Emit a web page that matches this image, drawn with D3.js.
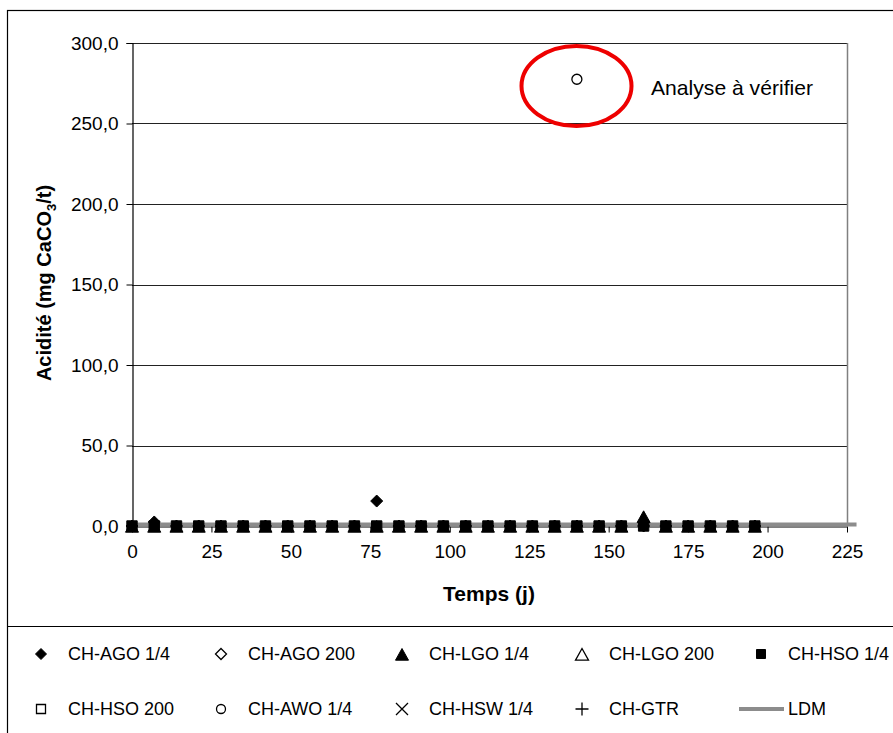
<!DOCTYPE html>
<html>
<head>
<meta charset="utf-8">
<script src="https://cdn.jsdelivr.net/npm/d3@7"></script>
<style>
  body { margin: 0; background: #fff; }
  svg { font-family: "Liberation Sans", Arial, sans-serif; }
</style>
</head>
<body>
<div id="chart"></div>
<script>
// sampling days (j)
var days = [0, 7, 14, 21, 28, 35, 42, 49, 56, 63, 70, 77, 84, 91, 98, 105,
            112, 119, 126, 133, 140, 147, 154, 161, 168, 175, 182, 189, 196];

// acidity values (mg CaCO3/t), null = no analysis
var agoQuarter = [0, 2.5, 0, 0, 0, 0, 0, 0, 0, 0, 0, 15.5, 0, 0, 0, 0,
                  0, 0, 0, 0, 0, 0, 0, 0, 0, 0, 0, 0, 0];
var lgoQuarter = [0, 0, 0, 0, 0, 0, 0, 0, 0, 0, 0, 0, 0, 0, 0, 0,
                  0, 0, 0, 0, 0, 0, 0, 6.0, 0, 0, 0, 0, 0];
var hsoQuarter = [0, 0, 0, 0, 0, 0, 0, 0, 0, 0, 0, 0, 0, 0, 0, 0,
                  0, 0, 0, 0, 0, 0, 0, 0, 0, 0, 0, 0, 0];
var awoQuarter = [null, null, null, null, null, null, null, null, null, null, null, null, null, null, null, null,
                  null, null, null, null, 277.5, null, null, null, null, null, null, null, null];
var ago200 = [], lgo200 = [], hso200 = [], hswQuarter = [], gtr = [];

// limite de détection
var ldmDays = [0, 228];
var ldmValues = [1.0, 1.0];

var yTicks = [0, 50, 100, 150, 200, 250, 300];
var xTicks = [0, 25, 50, 75, 100, 125, 150, 175, 200, 225];

var series = [
    {name: "CH-AGO 1/4", values: agoQuarter, symbol: "diamond", filled: true},
    {name: "CH-AGO 200", values: ago200, symbol: "diamond", filled: false},
    {name: "CH-LGO 1/4", values: lgoQuarter, symbol: "triangle", filled: true},
    {name: "CH-LGO 200", values: lgo200, symbol: "triangle", filled: false},
    {name: "CH-HSO 1/4", values: hsoQuarter, symbol: "square", filled: true},
    {name: "CH-HSO 200", values: hso200, symbol: "square", filled: false},
    {name: "CH-AWO 1/4", values: awoQuarter, symbol: "circle", filled: false},
    {name: "CH-HSW 1/4", values: hswQuarter, symbol: "cross", filled: false},
    {name: "CH-GTR", values: gtr, symbol: "plus", filled: false}
];

var W = 893, H = 733;
var svg = d3.select("#chart").append("svg")
    .attr("width", W)
    .attr("height", H);

// outer frame + legend separator
svg.append("rect")
    .attr("x", 7.5).attr("y", 10.5)
    .attr("width", 1000).attr("height", 1000)
    .attr("fill", "none").attr("stroke", "#000").attr("stroke-width", 1.2);
svg.append("line")
    .attr("x1", 7).attr("x2", W)
    .attr("y1", 626.5).attr("y2", 626.5)
    .attr("stroke", "#000").attr("stroke-width", 1.2);

var x = d3.scaleLinear().domain([0, 225]).range([132, 847]);
var y = d3.scaleLinear().domain([0, 300]).range([526, 43]);

// gridlines
svg.append("g")
    .selectAll("line")
    .data(yTicks.filter(function(d) { return d > 0; }))
    .enter().append("line")
    .attr("x1", x(0)).attr("x2", x(225))
    .attr("y1", function(d) { return Math.round(y(d)) + 0.5; })
    .attr("y2", function(d) { return Math.round(y(d)) + 0.5; })
    .attr("stroke", "#222").attr("stroke-width", 1);

// right border of plot area
svg.append("line")
    .attr("x1", x(225) + 0.5).attr("x2", x(225) + 0.5)
    .attr("y1", y(300)).attr("y2", y(0))
    .attr("stroke", "#808080").attr("stroke-width", 1.5);

// y axis
var yAxis = d3.axisLeft(y)
    .tickValues(yTicks)
    .tickSize(6)
    .tickPadding(8)
    .tickFormat(function(d) { return d3.format(".1f")(d).replace(".", ","); });
var gy = svg.append("g")
    .attr("transform", "translate(" + (x(0) + 0.5) + ",0)")
    .call(yAxis);
gy.select(".domain").attr("stroke", "#000").attr("stroke-width", 1.2);
gy.selectAll(".tick line").attr("stroke", "#000");
gy.selectAll("text").attr("font-size", 19).attr("fill", "#000")
    .attr("font-family", "Liberation Sans, Arial, sans-serif");

// x axis
var xAxis = d3.axisBottom(x)
    .tickValues(xTicks)
    .tickSize(6)
    .tickPadding(12)
    .tickSizeOuter(0);
var gx = svg.append("g")
    .attr("transform", "translate(0," + (y(0) + 0.5) + ")")
    .call(xAxis);
gx.select(".domain").attr("stroke", "#000").attr("stroke-width", 1.2);
gx.selectAll(".tick line").attr("stroke", "#000");
gx.selectAll("text").attr("font-size", 19).attr("fill", "#000")
    .attr("font-family", "Liberation Sans, Arial, sans-serif");

// LDM line behind markers
var ldmLine = d3.line()
    .x(function(d) { return x(d[0]); })
    .y(function(d) { return y(d[1]); });
svg.append("path")
    .datum(d3.zip(ldmDays, ldmValues))
    .attr("d", ldmLine)
    .attr("fill", "none")
    .attr("stroke", "#8c8c8c")
    .attr("stroke-width", 4);

// marker shapes (hand built so they look like the spreadsheet ones)
function markerPath(sym, r) {
    var p = d3.path();
    if (sym === "diamond") {
        p.moveTo(0, -r); p.lineTo(r, 0); p.lineTo(0, r); p.lineTo(-r, 0); p.closePath();
    } else if (sym === "triangle") {
        p.moveTo(0, -r); p.lineTo(r, r * 0.8); p.lineTo(-r, r * 0.8); p.closePath();
    } else if (sym === "square") {
        p.rect(-r, -r, 2 * r, 2 * r);
    } else if (sym === "circle") {
        p.moveTo(r, 0); p.arc(0, 0, r, 0, 2 * Math.PI);
    } else if (sym === "cross") {
        p.moveTo(-r, -r); p.lineTo(r, r); p.moveTo(-r, r); p.lineTo(r, -r);
    } else {
        p.moveTo(-r, 0); p.lineTo(r, 0); p.moveTo(0, -r); p.lineTo(0, r);
    }
    return p.toString();
}
var plotSize = {diamond: 6, triangle: 6.5, square: 5.2, circle: 5, cross: 6, plus: 6};
var legendSize = {diamond: 5.5, triangle: 6.5, square: 4.5, circle: 4.5, cross: 6, plus: 6.5};

function styleMarker(sel, s) {
    if (s.filled) {
        sel.attr("fill", "#000").attr("stroke", "#000").attr("stroke-width", 1);
    } else {
        sel.attr("fill", s.symbol === "circle" ? "#fff" : "none")
           .attr("stroke", "#000").attr("stroke-width", 1.3);
    }
}

series.forEach(function(s) {
    var pts = s.values.map(function(v, i) { return [days[i], v]; })
        .filter(function(p) { return p[1] !== null && p[1] !== undefined; });
    var g = svg.append("g");
    var m = g.selectAll("path")
        .data(pts)
        .enter().append("path")
        .attr("d", markerPath(s.symbol, plotSize[s.symbol]))
        .attr("transform", function(d) {
            var dy = s.symbol === "triangle" ? 1 : 0;
            return "translate(" + x(d[0]) + "," + (y(d[1]) + dy) + ")";
        });
    styleMarker(m, s);
});

// annotation
svg.append("ellipse")
    .attr("cx", 576.5).attr("cy", 86)
    .attr("rx", 55).attr("ry", 40)
    .attr("fill", "none")
    .attr("stroke", "#ee0000")
    .attr("stroke-width", 4);
svg.append("text")
    .attr("x", 651).attr("y", 95)
    .attr("font-size", 21)
    .attr("textLength", 162)
    .attr("lengthAdjust", "spacingAndGlyphs")
    .text("Analyse à vérifier");

// axis titles
var yt = svg.append("text")
    .attr("transform", "translate(51,283) rotate(-90)")
    .attr("text-anchor", "middle")
    .attr("font-weight", "bold")
    .attr("font-size", 20);
yt.append("tspan").text("Acidité (mg CaCO");
yt.append("tspan").text("3").attr("font-size", 13).attr("dy", 5);
yt.append("tspan").text("/t)").attr("dy", -5);

svg.append("text")
    .attr("x", 489).attr("y", 601)
    .attr("text-anchor", "middle")
    .attr("font-weight", "bold")
    .attr("font-size", 21)
    .text("Temps (j)");

// legend
var legendItems = series.map(function(s) { return {name: s.name, s: s}; });
legendItems.push({name: "LDM", s: null});
var legX = [41, 221, 402, 582, 761];
var legY = [654, 709];

legendItems.forEach(function(item, i) {
    var lx = legX[i % 5], ly = legY[Math.floor(i / 5)];
    var g = svg.append("g").attr("transform", "translate(" + lx + "," + ly + ")");
    if (item.s) {
        var p = g.append("path")
            .attr("d", markerPath(item.s.symbol, legendSize[item.s.symbol]))
            .attr("transform", item.s.symbol === "triangle" ? "translate(0,1)" : null);
        styleMarker(p, item.s);
    } else {
        g.append("line")
            .attr("x1", -22).attr("x2", 23)
            .attr("y1", 0).attr("y2", 0)
            .attr("stroke", "#8c8c8c").attr("stroke-width", 4);
    }
    g.append("text")
        .attr("x", 27).attr("y", 6)
        .attr("font-size", 18)
        .text(item.name);
});
</script>
</body>
</html>
